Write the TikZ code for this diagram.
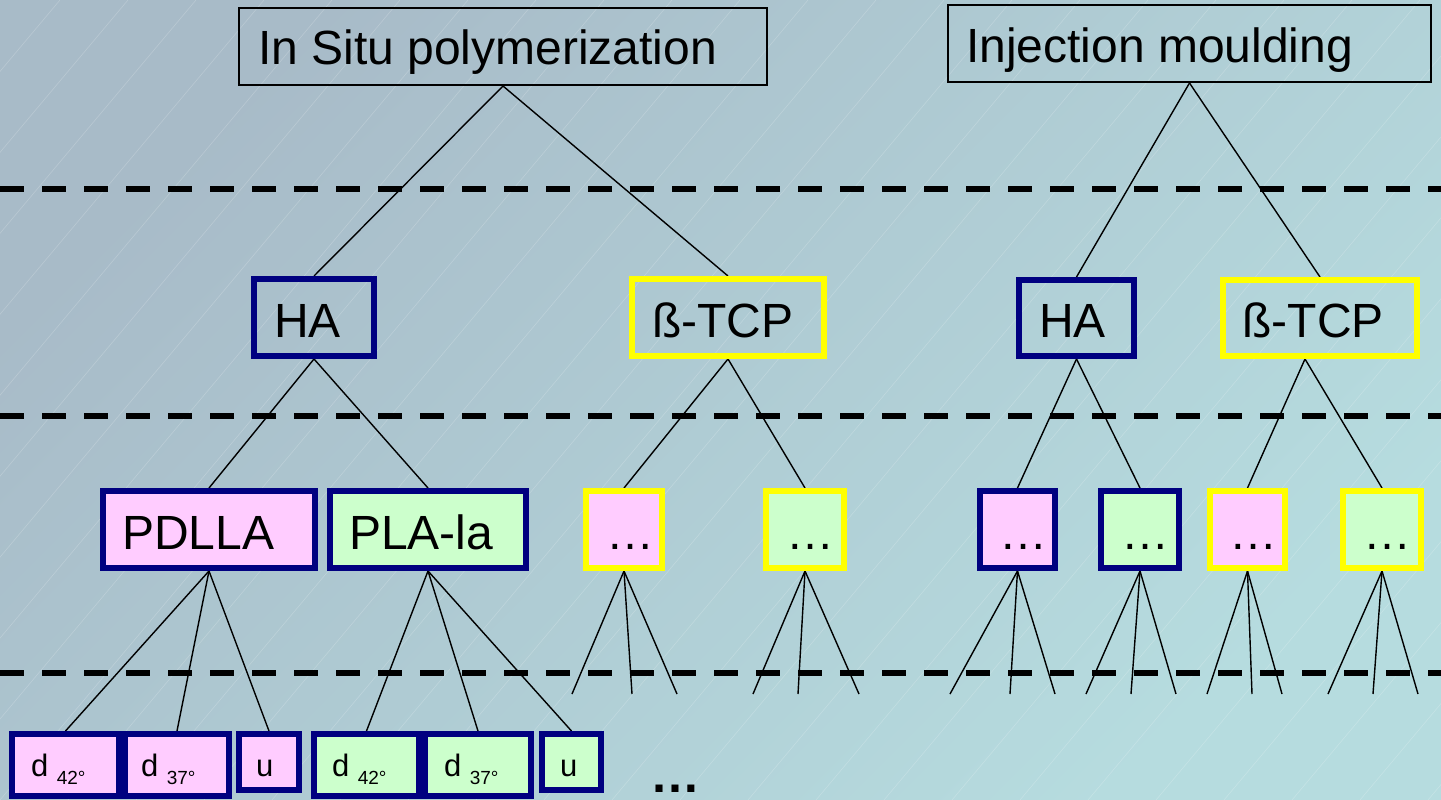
\documentclass[tikz,border=0pt]{standalone}
\usepackage{fontspec}
\setmainfont{Liberation Sans}
\definecolor{navy}{HTML}{000080}
\definecolor{pinkf}{HTML}{FFCCFF}
\definecolor{greenf}{HTML}{CCFFCC}
\definecolor{yel}{HTML}{FFFF00}
\definecolor{bgA}{HTML}{A8BBC8}
\definecolor{bgB}{HTML}{B6DCDF}
\pgfdeclarelayer{back}
\pgfdeclarelayer{mid}
\pgfsetlayers{back,mid,main}
% #1 name, #2 style, #3 line width, #4 x1, #5 y1, #6 x2, #7 y2 (outer edges), #8 left pad, #9 text
\newcommand\mkbox[9]{%
  \pgfmathsetmacro\bxw{#6-#4-#3}%
  \pgfmathsetmacro\bxh{#7-#5-#3}%
  \pgfmathsetmacro\bxcx{(#4+#6)/2}%
  \pgfmathsetmacro\bxcy{(#5+#7)/2}%
  \pgfmathsetmacro\bxtw{#6-#4-2*#8}%
  \pgfmathsetmacro\bxis{#8-#3/2}%
  \node[#2, line width=#3pt, minimum width=\bxw pt, minimum height=\bxh pt,
        inner xsep=\bxis pt, inner ysep=0pt] (#1) at (\bxcx,\bxcy) {\hbox to \bxtw pt{#9\hfil}};%
}
\newcommand\lowsub[1]{\raisebox{-8pt}{\fontsize{19pt}{19pt}\selectfont #1}}
\tikzset{
  topbox/.style={draw=black, font=\fontsize{48pt}{50pt}\selectfont, text depth=0pt},
  bigbox/.style={font=\fontsize{48pt}{50pt}\selectfont, text height=39pt, text depth=0pt},
  smallbox/.style={draw=navy, font=\fontsize{31pt}{32pt}\selectfont, text height=22pt, text depth=0pt},
  con/.style={draw=black, line width=1.4pt},
  sep/.style={draw=black, line width=6pt, dash pattern=on 24pt off 18pt},
}
\begin{document}
\begin{tikzpicture}[x=1pt, y=-1pt]
\useasboundingbox (0,0) rectangle (1441,800);
\begin{pgfonlayer}{back}
  \shade[top color=bgA, bottom color=bgB, shading angle=45] (0,0) rectangle (1441,800);
  \begin{scope}
    \clip (0,0) rectangle (1441,800);
    \foreach \i in {-12,...,22}
      \draw[white, opacity=0.2, line width=0.6pt] (\i*68,800) -- ++(672,-800);
  \end{scope}
  \draw[sep] (0,189) -- (1441,189);
  \draw[sep] (0,416) -- (1441,416);
  \draw[sep] (0,672.5) -- (1441,672.5);
\end{pgfonlayer}

% level 1
\mkbox{insitu}{topbox,text height=37pt}{2}{238}{7}{768}{86}{20}{In Situ polymerization}
\mkbox{inject}{topbox,text height=39pt}{2}{947}{4}{1432}{83}{19}{Injection moulding}
% level 2
\mkbox{ha1}{bigbox,draw=navy}{6}{251}{276}{377}{359}{23}{HA}
\mkbox{tcp1}{bigbox,draw=yel}{6}{629}{276}{827}{359}{23}{ß-TCP}
\mkbox{ha2}{bigbox,draw=navy}{6}{1016}{277}{1137}{359}{23}{HA}
\mkbox{tcp2}{bigbox,draw=yel}{6}{1220}{277}{1420}{359}{22.5}{ß-TCP}
% level 3
\mkbox{pdlla}{bigbox,draw=navy,fill=pinkf}{6}{100}{488}{318}{571}{22}{PDLLA}
\mkbox{plala}{bigbox,draw=navy,fill=greenf}{6}{327}{488}{529}{571}{22}{PLA-la}
\mkbox{e1}{bigbox,draw=yel,fill=pinkf}{6}{583}{488}{665}{571}{23}{…}
\mkbox{e2}{bigbox,draw=yel,fill=greenf}{6}{763}{488}{847}{571}{23}{…}
\mkbox{e3}{bigbox,draw=navy,fill=pinkf}{6}{977}{488}{1058}{571}{22.5}{…}
\mkbox{e4}{bigbox,draw=navy,fill=greenf}{6}{1098}{488}{1182}{571}{23}{…}
\mkbox{e5}{bigbox,draw=yel,fill=pinkf}{6}{1207}{488}{1288}{571}{22.5}{…}
\mkbox{e6}{bigbox,draw=yel,fill=greenf}{6}{1340}{488}{1424}{571}{23}{…}
% level 4
\mkbox{d1}{smallbox,fill=pinkf}{6}{9}{731}{122}{799}{22}{d \lowsub{42°}}
\mkbox{d2}{smallbox,fill=pinkf}{6}{122}{731}{232}{799}{19}{d \lowsub{37°}}
\mkbox{u1}{smallbox,fill=pinkf,text height=28pt}{6}{236}{731}{302}{793}{20}{u}
\mkbox{d3}{smallbox,fill=greenf}{6}{311}{731}{422}{799}{21}{d \lowsub{42°}}
\mkbox{d4}{smallbox,fill=greenf}{6}{422}{731}{534}{799}{22}{d \lowsub{37°}}
\mkbox{u2}{smallbox,fill=greenf,text height=28pt}{6}{539}{731}{604}{793}{21}{u}
\node[anchor=base west, inner sep=0pt, font=\bfseries\fontsize{50pt}{50pt}\selectfont] (more) at (650,792) {…};

% free ends of the open fans
\foreach \n/\x in {a1/572,a2/632,a3/677,b1/753,b2/798,b3/859,
                   c1/950,c2/1010,c3/1055,f1/1086,f2/1131,f3/1176,
                   g1/1207,g2/1252,g3/1282,h1/1328,h2/1373,h3/1418}
  \coordinate (\n) at (\x,694);

\begin{pgfonlayer}{mid}
  \draw[con] (insitu.south) -- (ha1.north);
  \draw[con] (insitu.south) -- (tcp1.north);
  \draw[con] (inject.south) -- (ha2.north);
  \draw[con] (inject.south) -- (tcp2.north);
  \draw[con] (ha1.south) -- (pdlla.north);
  \draw[con] (ha1.south) -- (plala.north);
  \draw[con] (tcp1.south) -- (e1.north);
  \draw[con] (tcp1.south) -- (e2.north);
  \draw[con] (ha2.south) -- (e3.north);
  \draw[con] (ha2.south) -- (e4.north);
  \draw[con] ([xshift=-15pt]tcp2.south) -- (e5.north);
  \draw[con] ([xshift=-15pt]tcp2.south) -- (e6.north);
  \draw[con] (pdlla.south) -- (d1.north);
  \draw[con] (pdlla.south) -- (d2.north);
  \draw[con] (pdlla.south) -- (u1.north);
  \draw[con] (plala.south) -- (d3.north);
  \draw[con] (plala.south) -- (d4.north);
  \draw[con] (plala.south) -- (u2.north);
  \foreach \b/\p in {e1/a,e2/b,e3/c,e4/f,e5/g,e6/h}
    \foreach \k in {1,2,3}
      \draw[con] (\b.south) -- (\p\k);
\end{pgfonlayer}
\end{tikzpicture}
\end{document}
